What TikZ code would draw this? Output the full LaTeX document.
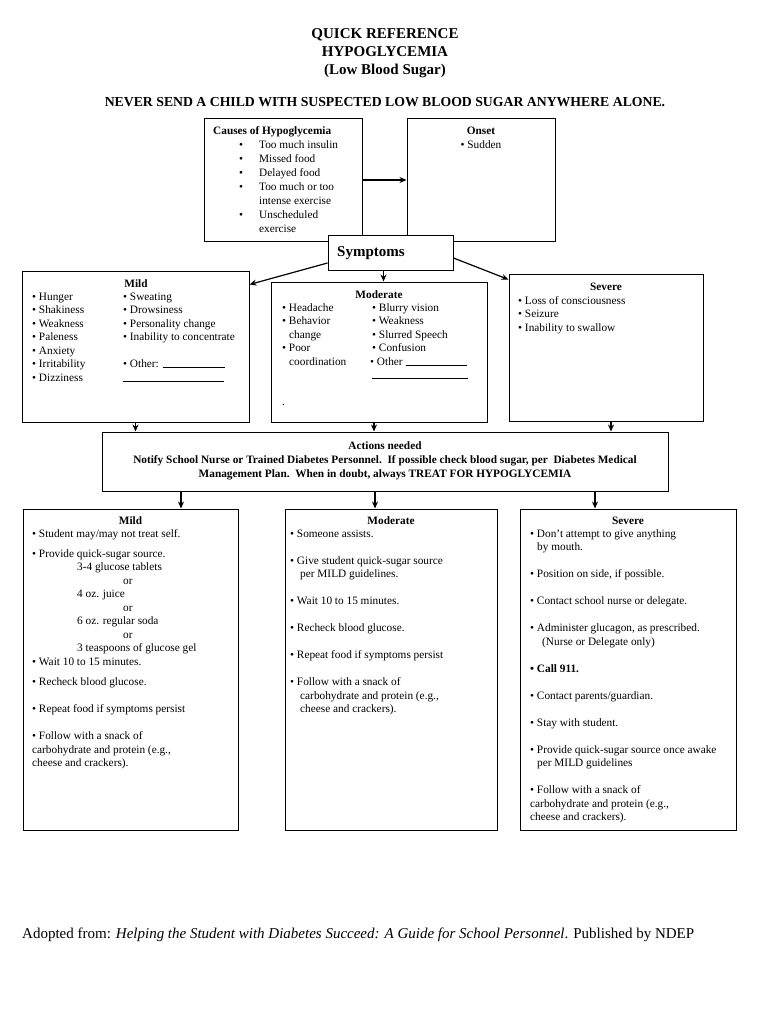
\documentclass[tikz,border=0pt]{standalone}
\usepackage{fontspec}
\setmainfont{Liberation Serif}
\usetikzlibrary{arrows.meta}
\begin{document}
\begin{tikzpicture}[x=1pt,y=-1pt,
  box/.style={draw=black, line width=1pt, fill=white, inner sep=0pt, rectangle},
  arr/.style={line width=1.2pt, -{Stealth[length=7pt,width=6pt]}},
  txt/.style={inner sep=0pt, font=\fontsize{11.3}{13.5}\selectfont},
  hdr/.style={inner sep=0pt, font=\fontsize{11.3}{13.5}\selectfont\bfseries, anchor=base}]
\useasboundingbox[fill=white] (0,0) rectangle (770,1024);

% title
\node[inner sep=0pt, anchor=base, font=\fontsize{15}{18}\selectfont\bfseries] (t1) at (385,38.5) {QUICK REFERENCE};
\node[inner sep=0pt, anchor=base, font=\fontsize{15}{18}\selectfont\bfseries] (t2) at (385,56.5) {HYPOGLYCEMIA};
\node[inner sep=0pt, anchor=base, font=\fontsize{15}{18}\selectfont\bfseries] (t3) at (385,74.5) {(Low Blood Sugar)};
\node[inner sep=0pt, anchor=base, font=\fontsize{13.75}{16}\selectfont\bfseries] (never) at (385,107) {NEVER SEND A CHILD WITH SUSPECTED LOW BLOOD SUGAR ANYWHERE ALONE.};

% boxes
\node[box, minimum width=158pt, minimum height=122pt] (causes) at (283,180) {};
\node[box, minimum width=148pt, minimum height=122pt] (onset) at (481,180) {};
\node[box, minimum width=125pt, minimum height=35pt] (sym) at (390.5,252.5) {};
\node[box, minimum width=227pt, minimum height=151pt] (smild) at (135.5,346.5) {};
\node[box, minimum width=216pt, minimum height=140pt] (smod) at (379,352) {};
\node[box, minimum width=194pt, minimum height=147pt] (ssev) at (606,347.5) {};
\node[box, minimum width=566pt, minimum height=59pt] (act) at (385,461.5) {};
\node[box, minimum width=215pt, minimum height=321pt] (amild) at (130.5,669.5) {};
\node[box, minimum width=212pt, minimum height=321pt] (amod) at (391,669.5) {};
\node[box, minimum width=216pt, minimum height=321pt] (asev) at (628,669.5) {};

% connectors
\draw[arr] (causes.east) -- (onset.west);
\draw[arr] ([yshift=-10.5pt]sym.west) -- ([yshift=-14pt]smild.north east);
\draw[arr] ([xshift=-7pt]sym.south) -- ([xshift=-7pt]sym.south |- smod.north);
\draw[arr] ([yshift=-5.5pt]sym.east) -- ([yshift=-6pt]ssev.north west);
\draw[arr] (smild.south) -- (smild.south |- act.north);
\draw[arr] ([xshift=-5pt]smod.south) -- ([xshift=-5pt]smod.south |- act.north);
\draw[arr] ([xshift=5pt]ssev.south) -- ([xshift=5pt]ssev.south |- act.north);
\draw[arr] ([xshift=50.5pt]amild.north |- act.south) -- ([xshift=50.5pt]amild.north);
\draw[arr] ([xshift=-16pt]amod.north |- act.south) -- ([xshift=-16pt]amod.north);
\draw[arr] ([xshift=-33pt]asev.north |- act.south) -- ([xshift=-33pt]asev.north);

% causes / onset
\node[hdr, anchor=base west] (causesh) at (213,135) {Causes of Hypoglycemia};
\node[txt, anchor=base west, font=\fontsize{11.3}{14}\selectfont] (causesl) at (239,149) {\begin{tabular}[t]{@{}l@{}}
\makebox[20pt][l]{•}Too much insulin\\
\makebox[20pt][l]{•}Missed food\\
\makebox[20pt][l]{•}Delayed food\\
\makebox[20pt][l]{•}Too much or too\\
\hspace*{20pt}intense exercise\\
\makebox[20pt][l]{•}Unscheduled\\
\hspace*{20pt}exercise
\end{tabular}};
\node[txt, anchor=base, font=\fontsize{11.3}{14}\selectfont] (onsett) at (481,135) {\begin{tabular}[t]{@{}c@{}}\textbf{Onset}\\• Sudden\end{tabular}};

% symptoms
\node[inner sep=0pt, anchor=base west, font=\fontsize{15}{18}\selectfont\bfseries] (symt) at (337,256) {Symptoms};

\node[hdr] (smildh) at (136,287) {Mild};
\node[txt, anchor=base west] (smildl) at (32,300) {\begin{tabular}[t]{@{}l@{}}
• Hunger\\ • Shakiness\\ • Weakness\\ • Paleness\\ • Anxiety\\ • Irritability\\ • Dizziness
\end{tabular}};
\node[txt, anchor=base west] (smildr) at (123,300) {\begin{tabular}[t]{@{}l@{}}
• Sweating\\ • Drowsiness\\ • Personality change\\ • Inability to concentrate\\ \\
• Other: \rule{62pt}{0.4pt}\\ \rule{101pt}{0.4pt}
\end{tabular}};

\node[hdr] (smodh) at (379,298) {Moderate};
\node[txt, anchor=base west] (smodl) at (282,311) {\begin{tabular}[t]{@{}l@{}}
• Headache\\ • Behavior\\ \hspace*{7pt}change\\ • Poor\\ \hspace*{7pt}coordination
\end{tabular}};
\node[txt, anchor=base west] (smodr) at (372,311) {\begin{tabular}[t]{@{}l@{}}
• Blurry vision\\ • Weakness\\ • Slurred Speech\\ • Confusion\\
\hspace*{-2pt}• Other \rule{61pt}{0.4pt}\\ \rule{96pt}{0.4pt}
\end{tabular}};
\node[txt, anchor=base west] (smoddot) at (282,405) {.};

\node[hdr] (ssevh) at (606,290) {Severe};
\node[txt, anchor=base west] (ssevl) at (518,304) {\begin{tabular}[t]{@{}l@{}}
• Loss of consciousness\\ • Seizure\\ • Inability to swallow
\end{tabular}};

% actions
\node[txt, anchor=base, font=\fontsize{11.3}{14}\selectfont\bfseries] (actt) at (385,449) {\begin{tabular}[t]{@{}c@{}}
Actions needed\\
Notify School Nurse or Trained Diabetes Personnel.\ \ If possible check blood sugar, per\ \ Diabetes Medical\\
Management Plan.\ \ When in doubt, always TREAT FOR HYPOGLYCEMIA
\end{tabular}};

% bottom mild
\node[hdr] (amildh) at (130.5,524) {Mild};
\node[txt, anchor=base west] (amildl) at (32,537) {\begin{tabular}[t]{@{}l@{}}
• Student may/may not treat self.\\[6.75pt]
• Provide quick-sugar source.\\
\hspace*{45pt}3-4 glucose tablets\\
\hspace*{91pt}or\\
\hspace*{45pt}4 oz. juice\\
\hspace*{91pt}or\\
\hspace*{45pt}6 oz. regular soda\\
\hspace*{91pt}or\\
\hspace*{45pt}3 teaspoons of glucose gel\\
• Wait 10 to 15 minutes.\\[6.75pt]
• Recheck blood glucose.\\[13.5pt]
• Repeat food if symptoms persist\\[13.5pt]
• Follow with a snack of\\
carbohydrate and protein (e.g.,\\
cheese and crackers).
\end{tabular}};

% bottom moderate
\node[hdr] (amodh) at (391,524) {Moderate};
\node[txt, anchor=base west] (amodl) at (290,537) {\begin{tabular}[t]{@{}l@{}}
• Someone assists.\\[13.5pt]
• Give student quick-sugar source\\
\hspace*{10pt}per MILD guidelines.\\[13.5pt]
• Wait 10 to 15 minutes.\\[13.5pt]
• Recheck blood glucose.\\[13.5pt]
• Repeat food if symptoms persist\\[13.5pt]
• Follow with a snack of\\
\hspace*{10pt}carbohydrate and protein (e.g.,\\
\hspace*{10pt}cheese and crackers).
\end{tabular}};

% bottom severe
\node[hdr] (asevh) at (628,524) {Severe};
\node[txt, anchor=base west] (asevl) at (530,537) {\begin{tabular}[t]{@{}l@{}}
• Don’t attempt to give anything\\
\hspace*{7pt}by mouth.\\[13.5pt]
• Position on side, if possible.\\[13.5pt]
• Contact school nurse or delegate.\\[13.5pt]
• Administer glucagon, as prescribed.\\
\hspace*{12pt}(Nurse or Delegate only)\\[13.5pt]
\textbf{• Call 911.}\\[13.5pt]
• Contact parents/guardian.\\[13.5pt]
• Stay with student.\\[13.5pt]
• Provide quick-sugar source once awake\\
\hspace*{7pt}per MILD guidelines\\[13.5pt]
• Follow with a snack of\\
carbohydrate and protein (e.g.,\\
cheese and crackers).
\end{tabular}};

% footer
\node[inner sep=0pt, anchor=base west, font=\fontsize{15}{18}\selectfont] (foot) at (22,938) {Adopted from: \textit{Helping the Student with Diabetes Succeed: A Guide for School Personnel}. Published by NDEP};
\end{tikzpicture}
\end{document}
